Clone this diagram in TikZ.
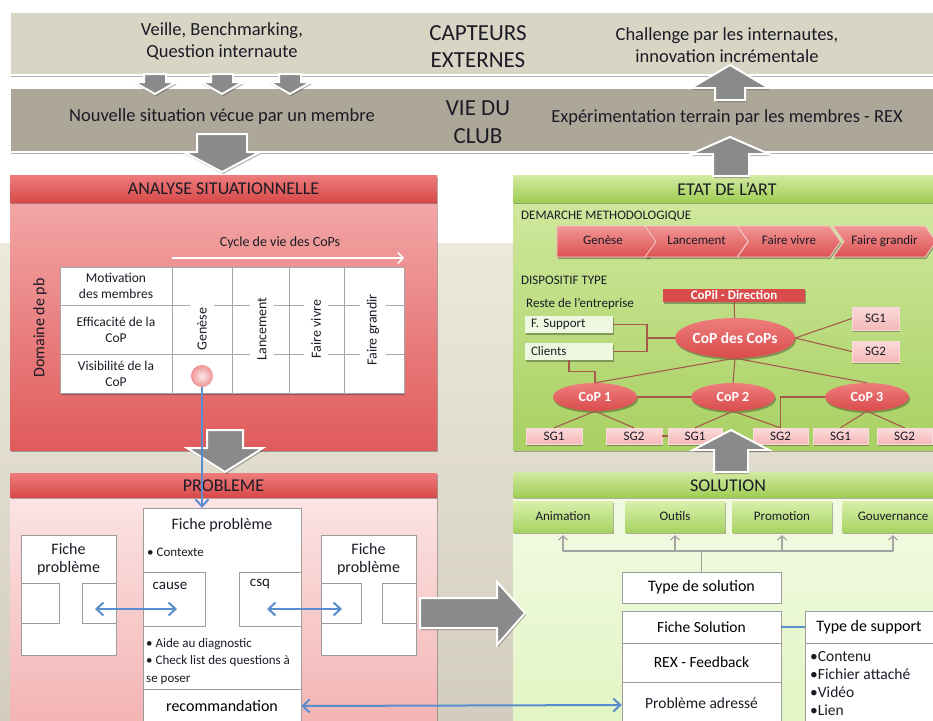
\documentclass[tikz,border=0pt]{standalone}
\usepackage{fontspec}
\setmainfont{Carlito}
\usetikzlibrary{arrows.meta, shapes.geometric, shapes.symbols, positioning, calc, shadows}

\definecolor{ink}{HTML}{1B1B26}
\definecolor{bandext}{HTML}{D9D5C5}
\definecolor{bandclub}{HTML}{ACA798}
\definecolor{backtop}{HTML}{EDE9DA}
\definecolor{backbot}{HTML}{D2CDBF}
\definecolor{redheadtop}{HTML}{EE7C7C}
\definecolor{redheadbot}{HTML}{D84A4A}
\definecolor{anatop}{HTML}{F3A6A6}
\definecolor{anabot}{HTML}{E05B5B}
\definecolor{probtop}{HTML}{FCE4E4}
\definecolor{probbot}{HTML}{F3B2B2}
\definecolor{greenheadtop}{HTML}{D3EBA2}
\definecolor{greenheadbot}{HTML}{A0CD55}
\definecolor{etattop}{HTML}{CFE89D}
\definecolor{etatbot}{HTML}{A8D062}
\definecolor{soltop}{HTML}{F3FAE4}
\definecolor{solbot}{HTML}{E1F5C2}
\definecolor{arrgray}{HTML}{8A8A8A}
\definecolor{gridgray}{HTML}{A6A6A6}
\definecolor{boxline}{HTML}{9C9C9C}
\definecolor{linkblue}{HTML}{5A8DCD}
\definecolor{linkbrown}{HTML}{A65A4C}
\definecolor{chevtop}{HTML}{F29595}
\definecolor{chevbot}{HTML}{DC5252}
\definecolor{coptop}{HTML}{EE7D7D}
\definecolor{copbot}{HTML}{DA4C4C}
\definecolor{sgtop}{HTML}{FBDADA}
\definecolor{sgbot}{HTML}{F4B8B8}
\definecolor{palegreen}{HTML}{EEF8E0}
\definecolor{btntop}{HTML}{D9F0AD}
\definecolor{btnbot}{HTML}{A7D362}
\definecolor{dotpink}{HTML}{EF9292}
\definecolor{treegray}{HTML}{A3A3A3}

\begin{document}
\begin{tikzpicture}[x=1pt, y=-1pt,
  fs/.style 2 args={font=\fontsize{#1}{#2}\selectfont},
  txt/.style={text=ink, align=center, inner sep=0pt},
  softshadow/.style={drop shadow={shadow xshift=1pt, shadow yshift=-2pt, opacity=0.3, fill=black}},
  garrow/.style={fill=arrgray, draw=white, line width=2pt, softshadow},
  box/.style={draw=boxline, fill=white, inner sep=0pt},
  gridline/.style={draw=gridgray, line width=1pt},
  chev/.style={signal, signal to=east, signal from=west, signal pointer angle=110,
               minimum width=103pt, minimum height=31pt, inner sep=0pt, text height=9pt, text depth=3pt,
               top color=chevtop, bottom color=chevbot, draw=white!70!chevbot, line width=0.8pt,
               text=ink, fs={13}{15}, softshadow},
  cop/.style={ellipse, inner sep=0pt, top color=coptop, bottom color=copbot, text=white,
              font=\fontsize{14}{16}\selectfont\bfseries, softshadow},
  sg/.style={rectangle, inner sep=0pt, minimum height=16pt, top color=sgtop, bottom color=sgbot,
             draw=white!50!sgbot, text=ink, fs={13}{15}, softshadow},
  rest/.style={rectangle, fill=palegreen, minimum height=17pt, text width=76pt, inner xsep=6pt,
               inner ysep=0pt, align=left, text=ink, fs={13}{15}, softshadow},
  link/.style={draw=linkbrown, line width=1.1pt},
  bluelink/.style={draw=linkblue, line width=2pt},
  bluetip/.style={-{Straight Barb[length=7pt, width=13pt]}},
  bluetips/.style={{Straight Barb[length=7pt, width=13pt]}-{Straight Barb[length=7pt, width=13pt]}},
  solbtn/.style={rectangle, inner sep=0pt, minimum width=100pt, minimum height=31pt,
                 top color=btntop, bottom color=btnbot, text=ink, fs={13}{15}, softshadow},
  treearrow/.style={draw=treegray, line width=1.2pt, -{Straight Barb[length=4pt, width=9pt]}}
]
  \useasboundingbox (0,0) rectangle (933,720);
  \clip (0,0) rectangle (933,720);

  % fond
  \shade[top color=backtop, bottom color=backbot] (0,243) rectangle (933,720);

  % bandeaux
  \fill[bandext, draw=white, line width=2pt, softshadow] (10,12) rectangle (945,75);
  \fill[bandclub, draw=white, line width=2pt, softshadow] (10,88) rectangle (945,152);
  \node[txt, fs={18.5}{22}] (veille) at (222,41) {Veille, Benchmarking,\\Question internaute};
  \node[txt, fs={23}{27}] (capt) at (478,47) {CAPTEURS\\EXTERNES};
  \node[txt, fs={18.5}{22}] (chall) at (727,45) {Challenge par les internautes,\\innovation incrémentale};
  \node[txt, fs={18.5}{22}] (nouv) at (222,117) {Nouvelle situation vécue par un membre};
  \node[txt, fs={23}{28}] (club) at (478,122) {VIE DU\\CLUB};
  \node[txt, fs={18.5}{22}] (expe) at (727,118) {Expérimentation terrain par les membres - REX};

  % analyse situationnelle
  \fill[top color=anatop, bottom color=anabot, softshadow] (10,202) rectangle (437,450);
  \fill[top color=redheadtop, bottom color=redheadbot, softshadow] (10,175) rectangle (437,202);
  \node[txt, fs={18}{22}] (anahead) at (223.5,189) {ANALYSE SITUATIONNELLE};
  \node[txt, fs={14}{17}] (cycle) at (280,243) {Cycle de vie des CoPs};
  \coordinate (cyc0) at (172,258);
  \coordinate (cyc1) at (404,258);
  \draw[white, line width=1.5pt, -{Straight Barb[length=5pt, width=11pt]}] (cyc0) -- (cyc1);
  \node[txt, fs={16}{19}, rotate=90] (domaine) at (40,328) {Domaine de pb};

  \fill[white, softshadow] (60,267) rectangle (404,393);
  \draw[gridline] (60,267) rectangle (404,393);
  \foreach \gx in {172,232,289,344}
    \draw[gridline] (\gx,267) -- (\gx,393);
  \foreach \gy in {305,354}
    \draw[gridline] (60,\gy) -- (404,\gy);
  \node[txt, fs={13.5}{16}] (motiv) at (116,286) {Motivation\\des membres};
  \node[txt, fs={13.5}{16}] (effic) at (116,330) {Efficacité de la\\CoP};
  \node[txt, fs={13.5}{16}] (visib) at (116,374) {Visibilité de la\\CoP};
  \foreach \cx/\cy/\lab [count=\i] in {202/329/Genèse, 262/329/Lancement, 316/329/Faire vivre, 373/330/Faire grandir}
    \node[txt, fs={14}{16}, rotate=90, fill=white, inner xsep=3pt, inner ysep=7pt] (phase\i) at (\cx,\cy) {\lab};
  \node[circle, minimum size=22pt, inner sep=0pt, shading=radial, inner color=white!80!dotpink,
        outer color=dotpink] (dot) at (202,376) {};

  % etat de l'art
  \fill[top color=etattop, bottom color=etatbot, softshadow] (513,202) rectangle (945,450);
  \fill[top color=greenheadtop, bottom color=greenheadbot, softshadow] (513,175) rectangle (945,202);
  \node[txt, fs={18}{22}] (etathead) at (727,189) {ETAT DE L’ART};
  \node[txt, fs={13}{15}, anchor=west] (demarche) at (521,216) {DEMARCHE METHODOLOGIQUE};
  \node[chev, signal from=nowhere] (ch1) at (603,241.5) {Genèse};
  \node[chev] (ch2) at (696.5,241.5) {Lancement};
  \node[chev] (ch3) at (789,241.5) {Faire vivre};
  \node[chev] (ch4) at (884.5,241.5) {Faire grandir};
  \node[txt, fs={13}{15}, anchor=west] (dispo) at (521,280) {DISPOSITIF TYPE};
  \node[txt, fs={13}{15}, anchor=west] (reste) at (526,304) {Reste de l’entreprise};

  \node[rectangle, fill=copbot, minimum width=142pt, minimum height=13pt, inner sep=0pt, text=white,
        font=\fontsize{13}{15}\selectfont\bfseries, softshadow] (copil) at (734,295) {CoPil - Direction};
  \node[cop, minimum width=110pt, minimum height=40pt, font=\fontsize{15.5}{18}\selectfont\bfseries] (cc) at (735,338) {CoP des CoPs};
  \node[rest] (fsup) at (569,324.5) {F. Support};
  \node[rest] (cli) at (569,351.5) {Clients};
  \node[sg, minimum width=47pt, minimum height=23pt] (sgr1) at (875.5,318.5) {SG1};
  \node[sg, minimum width=47pt, minimum height=21pt] (sgr2) at (875.5,351.5) {SG2};
  \node[cop, minimum width=84pt, minimum height=28pt] (cop1) at (595,397) {CoP 1};
  \node[cop, minimum width=84pt, minimum height=28pt] (cop2) at (733,397) {CoP 2};
  \node[cop, minimum width=84pt, minimum height=28pt] (cop3) at (867,397) {CoP 3};
  \node[sg, minimum width=56pt] (sg1a) at (554,436) {SG1};
  \node[sg, minimum width=56pt] (sg2a) at (634,436) {SG2};
  \node[sg, minimum width=54pt] (sg1b) at (695,436) {SG1};
  \node[sg, minimum width=55pt] (sg2b) at (780.5,436) {SG2};
  \node[sg, minimum width=55pt] (sg1c) at (840.5,436) {SG1};
  \node[sg, minimum width=55pt] (sg2c) at (904.5,436) {SG2};

  \coordinate (brk) at (647,338);
  \draw[link] (copil) -- (cc);
  \draw[link] (fsup.east) -| (brk) |- (cli.east);
  \draw[link] (brk) -- (cc.west);
  \draw[link] (cc.east) -- (sgr1.west);
  \draw[link] (cc.east) -- (sgr2.west);
  \foreach \c in {cop1,cop2,cop3}
    \draw[link] (cc.south) -- (\c.north);
  \draw[link] (cli.south) |- ($(cli.south)!0.5!(cop1.north)$) -| (cop1.north);
  \draw[link] (cop1) -- (cop2);
  \draw[link] (cop3.west) -| (sg2b.north);
  \draw[link] (cop1.south) -- (sg1a.north);
  \draw[link] (cop1.south) -- (sg2a.north);
  \draw[link] (cop2.south) -- (sg1b.north);
  \draw[link] (cop2.south) -- (sg2b.north);
  \draw[link] (cop3.south) -- (sg1c.north);
  \draw[link] (cop3.south) -- (sg2c.north);
  \draw[link] (sg2a) -- (sg1b);

  % probleme
  \fill[top color=probtop, bottom color=probbot, softshadow] (10,497) rectangle (437,730);
  \fill[top color=redheadtop, bottom color=redheadbot, softshadow] (10,473) rectangle (437,497);
  \node[txt, fs={18}{22}] (probhead) at (223.5,486) {PROBLEME};

  \node[box, minimum width=158pt, minimum height=181pt] (fp) at (222,598.5) {};
  \node[txt, fs={16}{19}] (fptitle) at (222,525) {Fiche problème};
  \node[txt, fs={13}{16}, anchor=west] (ctx) at (147,552) {• Contexte};
  \node[box, minimum width=62pt, minimum height=54pt] (cause) at (174,599) {};
  \node[box, minimum width=62pt, minimum height=54pt] (csq) at (270,599) {};
  \node[txt, fs={15}{17}] at (170,586) {cause};
  \node[txt, fs={15}{17}] at (260,584) {csq};
  \node[txt, fs={13}{17.5}, anchor=north west, align=left] (aide) at (146,638)
    {• Aide au diagnostic\\• Check list des questions à\\se poser};
  \node[box, minimum width=158pt, minimum height=34pt, fs={16}{19}] (recom) at (222,706) {recommandation};

  \node[box, minimum width=95pt, minimum height=120pt] (fpl) at (68.5,595) {};
  \node[txt, fs={16}{18}] at (68.5,559) {Fiche\\problème};
  \node[box, minimum width=38pt, minimum height=40pt] (fpla) at (40,603) {};
  \node[box, minimum width=34pt, minimum height=40pt] (fplb) at (99,603) {};
  \node[box, minimum width=95pt, minimum height=120pt] (fpr) at (368.5,595) {};
  \node[txt, fs={16}{18}] at (368.5,559) {Fiche\\problème};
  \node[box, minimum width=40pt, minimum height=40pt] (fpra) at (341,603) {};
  \node[box, minimum width=34pt, minimum height=40pt] (fprb) at (399,603) {};

  % solution
  \fill[top color=soltop, bottom color=solbot, softshadow] (513,497) rectangle (945,730);
  \fill[top color=greenheadtop, bottom color=greenheadbot, softshadow] (513,472) rectangle (945,497);
  \node[txt, fs={18}{22}] (solhead) at (728,486) {SOLUTION};
  \node[solbtn] (sanim) at (563,516.5) {Animation};
  \node[solbtn] (sout) at (675,516.5) {Outils};
  \node[solbtn] (sprom) at (782,516.5) {Promotion};
  \node[solbtn, minimum width=102pt] (sgouv) at (893,516.5) {Gouvernance};

  \node[box, minimum width=159pt, minimum height=31pt, fs={16}{19}] (ts) at (701.5,587.5) {Type de solution};
  \node[box, minimum width=159pt, minimum height=32pt, fs={15.5}{18}] (fs) at (701.5,627) {Fiche Solution};
  \node[box, minimum width=159pt, minimum height=39pt, fs={15.5}{18}] (rex) at (701.5,662.5) {REX - Feedback};
  \node[box, minimum width=159pt, minimum height=46pt, fs={15.5}{18}] (pa) at (701.5,705) {};
  \node[txt, fs={15.5}{18}] at (701.5,703) {Problème adressé};
  \node[box, minimum width=128pt, minimum height=32pt, fs={16}{19}] (tsup) at (869,627) {Type de support};
  \node[box, minimum width=128pt, minimum height=87pt] (tlist) at (869,686.5) {};
  \node[txt, fs={15.5}{18}, anchor=north west, align=left] (liste) at (810,651)
    {•Contenu\\•Fichier attaché\\•Vidéo\\•Lien};

  \coordinate (tjoin) at (701.5,551);
  \draw[draw=treegray, line width=1.2pt] (ts.north) -- (tjoin);
  \draw[draw=treegray, line width=1.2pt] (sanim.south |- tjoin) -- (sgouv.south |- tjoin);
  \foreach \b in {sanim,sout,sprom,sgouv}
    \draw[treearrow] (\b.south |- tjoin) -- ([yshift=-3pt]\b.south);
  \draw[bluelink] (fs.east) -- (tsup.west);

  % fleches grises
  \foreach \cx in {155,222,290}
    \draw[garrow] (\cx-11,74) -- (\cx+11,74) -- (\cx+11,82) -- (\cx+21,82) -- (\cx,94)
      -- (\cx-21,82) -- (\cx-11,82) -- cycle;
  \draw[garrow] (197,134) -- (247,134) -- (247,152) -- (260,152) -- (222,172) -- (184,152)
    -- (197,152) -- cycle;
  \draw[garrow] (207,430) -- (243,430) -- (243,448) -- (263,448) -- (225,472) -- (187,448)
    -- (207,448) -- cycle;
  \draw[garrow] (715,100) -- (745,100) -- (745,88) -- (769,88) -- (730,65) -- (691,88)
    -- (715,88) -- cycle;
  \draw[garrow] (713,176) -- (749,176) -- (749,154) -- (769,154) -- (730,137) -- (691,154)
    -- (713,154) -- cycle;
  \draw[garrow] (714,472) -- (748,472) -- (748,450) -- (769,450) -- (731,430) -- (693,450)
    -- (714,450) -- cycle;
  \draw[garrow] (420,598) -- (497,598) -- (497,582) -- (525,613) -- (497,645) -- (497,628)
    -- (420,628) -- cycle;

  % liens bleus
  \draw[bluelink, bluetip] (dot.south) -- (dot.south |- fp.north);
  \draw[bluelink, bluetips] ([xshift=-4pt, yshift=-6pt]fplb.center) -- ([xshift=3pt, yshift=-10pt]cause.center);
  \draw[bluelink, bluetips] ([xshift=-3pt, yshift=-10pt]csq.center) -- ([xshift=1pt, yshift=-6pt]fpra.center);
  \draw[bluelink, bluetips] (recom.east) -- (pa.west);
\end{tikzpicture}
\end{document}
